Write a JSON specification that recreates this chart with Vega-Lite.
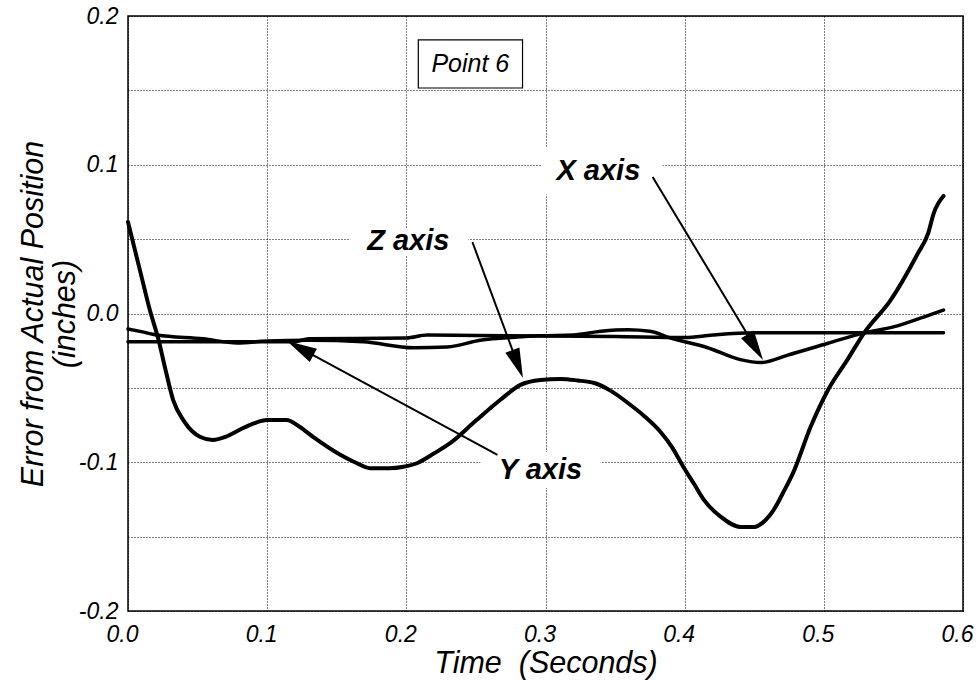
{
  "$schema": "https://vega.github.io/schema/vega-lite/v6.json",
  "width": 835,
  "height": 595,
  "autosize": {"type": "none"},
  "padding": {"left": 128, "top": 16, "right": 13, "bottom": 70},
  "background": "white",
  "config": {
    "view": {"stroke": "black", "strokeWidth": 1.5},
    "font": "Liberation Sans",
    "axis": {
      "labelFont": "Liberation Sans",
      "labelFontStyle": "italic",
      "labelFontSize": 23,
      "labelColor": "black",
      "labelFlush": false,
      "labelOverlap": false,
      "titleFont": "Liberation Sans",
      "titleFontStyle": "italic",
      "titleFontWeight": "normal",
      "titleFontSize": 30.5,
      "titleColor": "black",
      "domain": false,
      "ticks": false,
      "grid": true,
      "gridColor": "black",
      "gridDash": [1, 2],
      "gridWidth": 1,
      "gridOpacity": 1
    }
  },
  "datasets": {
    "curves": [
      {"series": "Z axis", "t": 0, "v": 0.0615},
      {"series": "Z axis", "t": 0.0086, "v": 0.029},
      {"series": "Z axis", "t": 0.0158, "v": 0.002},
      {"series": "Z axis", "t": 0.0216, "v": -0.0165},
      {"series": "Z axis", "t": 0.027, "v": -0.038},
      {"series": "Z axis", "t": 0.0324, "v": -0.058},
      {"series": "Z axis", "t": 0.04, "v": -0.072},
      {"series": "Z axis", "t": 0.052, "v": -0.083},
      {"series": "Z axis", "t": 0.061, "v": -0.085},
      {"series": "Z axis", "t": 0.07, "v": -0.083},
      {"series": "Z axis", "t": 0.0806, "v": -0.078},
      {"series": "Z axis", "t": 0.09, "v": -0.074},
      {"series": "Z axis", "t": 0.1, "v": -0.0716},
      {"series": "Z axis", "t": 0.114, "v": -0.0716},
      {"series": "Z axis", "t": 0.123, "v": -0.076},
      {"series": "Z axis", "t": 0.133, "v": -0.083},
      {"series": "Z axis", "t": 0.1525, "v": -0.095},
      {"series": "Z axis", "t": 0.163, "v": -0.1},
      {"series": "Z axis", "t": 0.174, "v": -0.104},
      {"series": "Z axis", "t": 0.188, "v": -0.104},
      {"series": "Z axis", "t": 0.198, "v": -0.103},
      {"series": "Z axis", "t": 0.208, "v": -0.1005},
      {"series": "Z axis", "t": 0.22, "v": -0.094},
      {"series": "Z axis", "t": 0.2317, "v": -0.087},
      {"series": "Z axis", "t": 0.25, "v": -0.072},
      {"series": "Z axis", "t": 0.2676, "v": -0.058},
      {"series": "Z axis", "t": 0.282, "v": -0.048},
      {"series": "Z axis", "t": 0.2964, "v": -0.0447},
      {"series": "Z axis", "t": 0.311, "v": -0.044},
      {"series": "Z axis", "t": 0.323, "v": -0.045},
      {"series": "Z axis", "t": 0.335, "v": -0.0467},
      {"series": "Z axis", "t": 0.347, "v": -0.052},
      {"series": "Z axis", "t": 0.359, "v": -0.06},
      {"series": "Z axis", "t": 0.371, "v": -0.069},
      {"series": "Z axis", "t": 0.383, "v": -0.08},
      {"series": "Z axis", "t": 0.391, "v": -0.09},
      {"series": "Z axis", "t": 0.399, "v": -0.103},
      {"series": "Z axis", "t": 0.407, "v": -0.115},
      {"series": "Z axis", "t": 0.414, "v": -0.1255},
      {"series": "Z axis", "t": 0.426, "v": -0.1367},
      {"series": "Z axis", "t": 0.44, "v": -0.1435},
      {"series": "Z axis", "t": 0.45, "v": -0.1435},
      {"series": "Z axis", "t": 0.458, "v": -0.139},
      {"series": "Z axis", "t": 0.464, "v": -0.132},
      {"series": "Z axis", "t": 0.471, "v": -0.12},
      {"series": "Z axis", "t": 0.478, "v": -0.107},
      {"series": "Z axis", "t": 0.4906, "v": -0.076},
      {"series": "Z axis", "t": 0.503, "v": -0.0514},
      {"series": "Z axis", "t": 0.517, "v": -0.031},
      {"series": "Z axis", "t": 0.529, "v": -0.013},
      {"series": "Z axis", "t": 0.548, "v": 0.009},
      {"series": "Z axis", "t": 0.5676, "v": 0.0405},
      {"series": "Z axis", "t": 0.575, "v": 0.054},
      {"series": "Z axis", "t": 0.579, "v": 0.0675},
      {"series": "Z axis", "t": 0.586, "v": 0.079},

      {"series": "X axis", "t": 0, "v": -0.0104},
      {"series": "X axis", "t": 0.0086, "v": -0.012},
      {"series": "X axis", "t": 0.0209, "v": -0.0145},
      {"series": "X axis", "t": 0.054, "v": -0.017},
      {"series": "X axis", "t": 0.0784, "v": -0.0198},
      {"series": "X axis", "t": 0.1, "v": -0.0185},
      {"series": "X axis", "t": 0.13, "v": -0.018},
      {"series": "X axis", "t": 0.169, "v": -0.019},
      {"series": "X axis", "t": 0.205, "v": -0.023},
      {"series": "X axis", "t": 0.2295, "v": -0.0225},
      {"series": "X axis", "t": 0.253, "v": -0.018},
      {"series": "X axis", "t": 0.28, "v": -0.0158},
      {"series": "X axis", "t": 0.296, "v": -0.015},
      {"series": "X axis", "t": 0.32, "v": -0.0145},
      {"series": "X axis", "t": 0.34, "v": -0.012},
      {"series": "X axis", "t": 0.359, "v": -0.011},
      {"series": "X axis", "t": 0.375, "v": -0.012},
      {"series": "X axis", "t": 0.39, "v": -0.0165},
      {"series": "X axis", "t": 0.4165, "v": -0.023},
      {"series": "X axis", "t": 0.44, "v": -0.031},
      {"series": "X axis", "t": 0.4547, "v": -0.033},
      {"series": "X axis", "t": 0.474, "v": -0.028},
      {"series": "X axis", "t": 0.503, "v": -0.02},
      {"series": "X axis", "t": 0.529, "v": -0.013},
      {"series": "X axis", "t": 0.55, "v": -0.009},
      {"series": "X axis", "t": 0.5698, "v": -0.003},
      {"series": "X axis", "t": 0.586, "v": 0.0023},

      {"series": "Y axis", "t": 0, "v": -0.019},
      {"series": "Y axis", "t": 0.05, "v": -0.019},
      {"series": "Y axis", "t": 0.1, "v": -0.019},
      {"series": "Y axis", "t": 0.119, "v": -0.019},
      {"series": "Y axis", "t": 0.13, "v": -0.017},
      {"series": "Y axis", "t": 0.2, "v": -0.0165},
      {"series": "Y axis", "t": 0.215, "v": -0.0145},
      {"series": "Y axis", "t": 0.25, "v": -0.0148},
      {"series": "Y axis", "t": 0.3, "v": -0.0151},
      {"series": "Y axis", "t": 0.35, "v": -0.0155},
      {"series": "Y axis", "t": 0.4, "v": -0.0162},
      {"series": "Y axis", "t": 0.42, "v": -0.0145},
      {"series": "Y axis", "t": 0.45, "v": -0.013},
      {"series": "Y axis", "t": 0.5, "v": -0.013},
      {"series": "Y axis", "t": 0.586, "v": -0.013}
    ],
    "boxes": [
      {"name": "Point 6", "t1": 0.2086, "t2": 0.2835, "v1": 0.1839, "v2": 0.1516, "framed": true},
      {"name": "X axis", "t1": 0.2974, "t2": 0.384, "v1": 0.112, "v2": 0.08, "framed": false},
      {"name": "Z axis", "t1": 0.1597, "t2": 0.2446, "v1": 0.0575, "v2": 0.0387, "framed": false},
      {"name": "Y axis", "t1": 0.2532, "t2": 0.3396, "v1": -0.0931, "v2": -0.1173, "framed": false}
    ],
    "labels": [
      {"text": "X axis", "t": 0.338, "v": 0.0958},
      {"text": "Z axis", "t": 0.2014, "v": 0.0487},
      {"text": "Y axis", "t": 0.2964, "v": -0.1052}
    ],
    "arrows": [
      {"name": "X axis", "t0": 0.377, "v0": 0.0918, "t1": 0.4507, "v1": -0.0227, "angle": 148.8},
      {"name": "Z axis", "t0": 0.2475, "v0": 0.048, "t1": 0.28, "v1": -0.034, "angle": 159.4},
      {"name": "Y axis", "t0": 0.2655, "v0": -0.095, "t1": 0.1237, "v1": -0.0233, "angle": 298.5}
    ]
  },
  "layer": [
    {
      "data": {"name": "boxes"},
      "mark": {"type": "rect", "fill": "white"},
      "encoding": {
        "x": {
          "field": "t1", "type": "quantitative",
          "scale": {"domain": [0, 0.6], "nice": false, "zero": false},
          "axis": {
            "values": [0, 0.1, 0.2, 0.3, 0.4, 0.5, 0.6],
            "format": ".1f",
            "labelPadding": 12,
            "labelOffset": -6,
            "title": "Time\u00a0 (Seconds)",
            "titlePadding": 2
          }
        },
        "x2": {"field": "t2"},
        "y": {
          "field": "v1", "type": "quantitative",
          "scale": {"domain": [-0.2, 0.2], "nice": false, "zero": false},
          "axis": {
            "values": [-0.2, -0.15, -0.1, -0.05, 0, 0.05, 0.1, 0.15, 0.2],
            "labelExpr": "abs(datum.value * 10 - round(datum.value * 10)) < 0.01 ? replace(format(datum.value, '.1f'), '\u2212', '-') : ''",
            "labelPadding": 10,
            "title": ["Error from Actual Position", "(inches)"],
            "titleLineHeight": 32,
            "titlePadding": -2
          }
        },
        "y2": {"field": "v2"},
        "stroke": {
          "condition": {"test": "datum.framed", "value": "black"},
          "value": null
        },
        "strokeWidth": {"value": 1.2}
      }
    },
    {
      "data": {"name": "curves"},
      "mark": {"type": "line", "color": "black", "interpolate": "monotone", "strokeJoin": "round", "strokeCap": "round"},
      "encoding": {
        "x": {"field": "t", "type": "quantitative"},
        "y": {"field": "v", "type": "quantitative"},
        "detail": {"field": "series"},
        "strokeWidth": {
          "condition": {"test": "datum.series === 'Z axis'", "value": 4},
          "value": 3.5
        }
      }
    },
    {
      "data": {"name": "arrows"},
      "mark": {"type": "rule", "color": "black", "strokeWidth": 2},
      "encoding": {
        "x": {"field": "t0", "type": "quantitative"},
        "y": {"field": "v0", "type": "quantitative"},
        "x2": {"field": "t1"},
        "y2": {"field": "v1"}
      }
    },
    {
      "data": {"name": "arrows"},
      "mark": {
        "type": "point",
        "shape": "M0,-1L-0.5,1L0.5,1Z",
        "filled": true,
        "color": "black",
        "opacity": 1,
        "size": 900
      },
      "encoding": {
        "x": {"field": "t1", "type": "quantitative"},
        "y": {"field": "v1", "type": "quantitative"},
        "angle": {"field": "angle", "type": "quantitative", "scale": null}
      }
    },
    {
      "data": {"name": "labels"},
      "mark": {
        "type": "text",
        "font": "Liberation Sans",
        "fontStyle": "italic",
        "fontWeight": "bold",
        "fontSize": 29,
        "color": "black",
        "align": "center",
        "baseline": "middle"
      },
      "encoding": {
        "x": {"field": "t", "type": "quantitative"},
        "y": {"field": "v", "type": "quantitative"},
        "text": {"field": "text"}
      }
    },
    {
      "data": {"values": [{"text": "Point 6", "t": 0.246, "v": 0.1675}]},
      "mark": {
        "type": "text",
        "font": "Liberation Sans",
        "fontStyle": "italic",
        "fontSize": 25,
        "color": "black",
        "align": "center",
        "baseline": "middle"
      },
      "encoding": {
        "x": {"field": "t", "type": "quantitative"},
        "y": {"field": "v", "type": "quantitative"},
        "text": {"field": "text"}
      }
    }
  ]
}
